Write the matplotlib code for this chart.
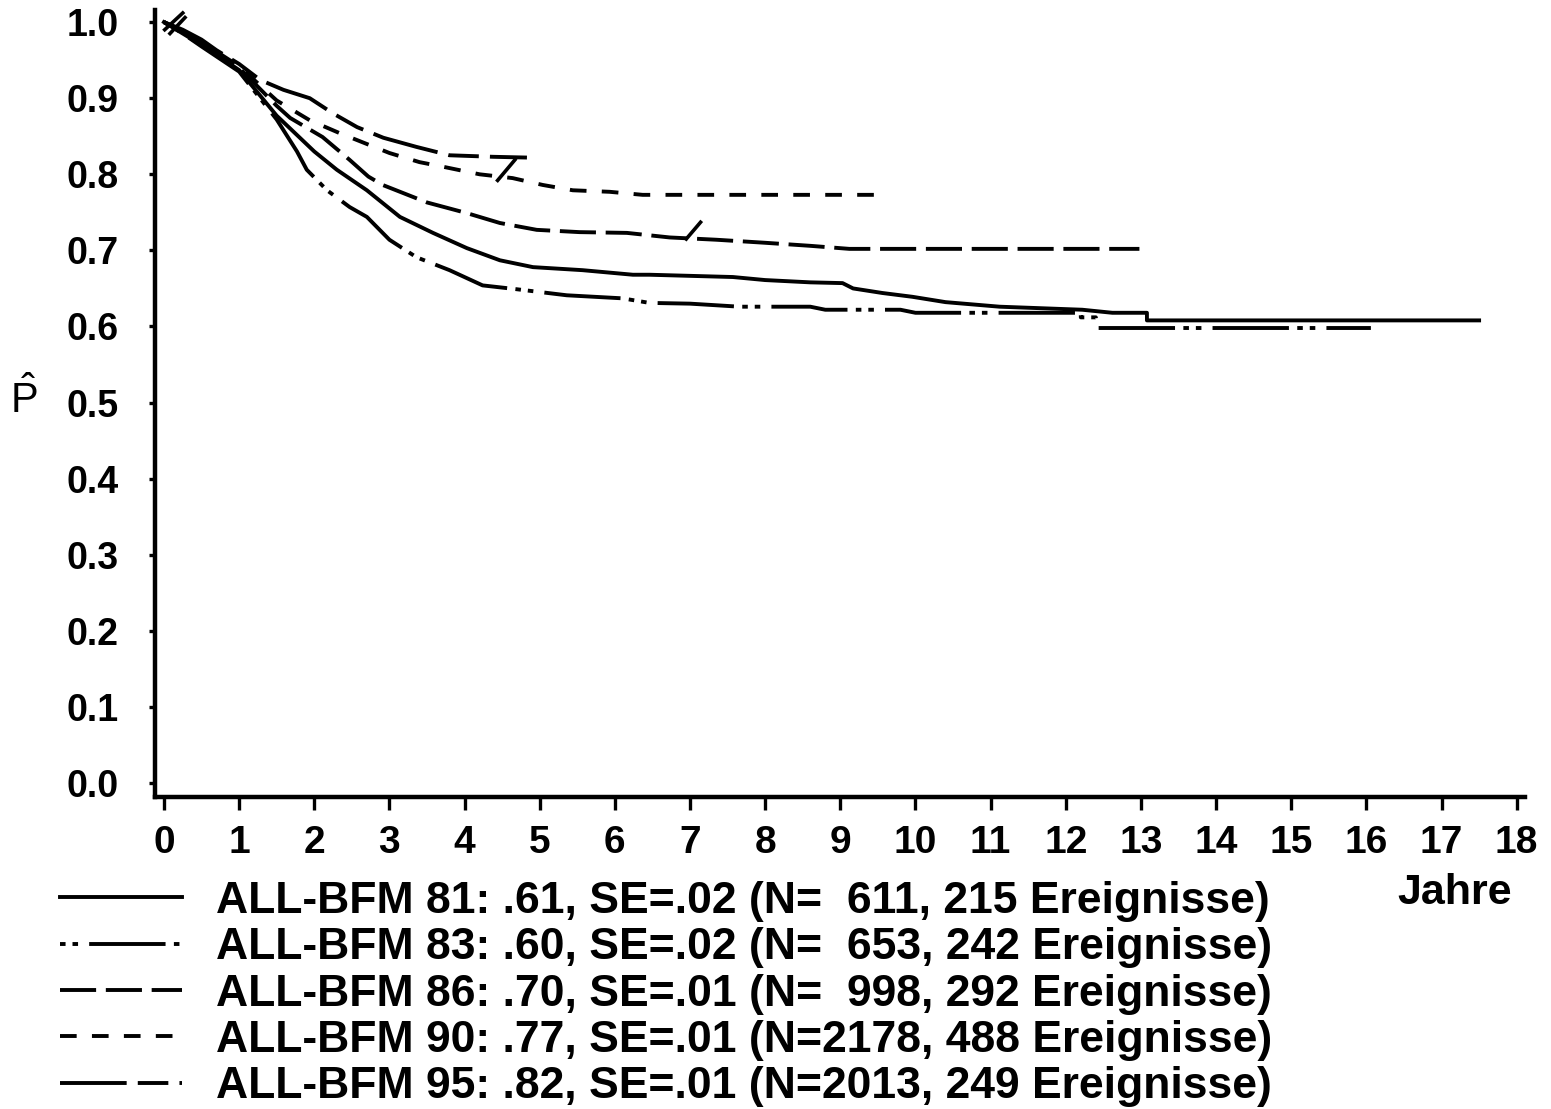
import matplotlib
matplotlib.use('Agg')
import matplotlib.pyplot as plt

plt.rcParams['font.family'] = ['Liberation Sans', 'DejaVu Sans']
plt.rcParams['mathtext.fontset'] = 'custom'
plt.rcParams['mathtext.rm'] = 'Liberation Sans'
plt.rcParams['lines.scale_dashes'] = False

# Kaplan-Meier curves (Jahre, P)
t81 = [0, 0.25, 0.5, 1.0, 1.5, 2.0, 2.3, 2.7, 3.14, 3.58, 4.03, 4.47, 4.91, 5.57, 6.24, 6.46,
       7.57, 8.0, 8.6, 9.03, 9.17, 9.56, 9.96, 10.4, 11.12, 12.22, 12.62, 13.08, 13.08, 17.5]
p81 = [1.0, 0.985, 0.97, 0.937, 0.877, 0.83, 0.806, 0.779, 0.744, 0.723, 0.703, 0.687, 0.678, 0.674,
       0.668, 0.668, 0.665, 0.661, 0.658, 0.657, 0.650, 0.644, 0.639, 0.632, 0.626, 0.622, 0.618,
       0.618, 0.608, 0.608]

t83 = [0, 0.25, 0.5, 1.0, 1.5, 1.77, 1.9, 2.17, 2.47, 2.7, 3.0, 3.36, 3.8, 4.24, 4.69, 5.36, 6.1,
       6.46, 7.0, 7.66, 8.6, 8.8, 9.8, 10.0, 12.2, 12.2, 12.4, 12.42, 16.06]
p83 = [1.0, 0.985, 0.968, 0.935, 0.872, 0.83, 0.806, 0.779, 0.757, 0.744, 0.714, 0.691, 0.674,
       0.654, 0.649, 0.641, 0.637, 0.631, 0.630, 0.626, 0.626, 0.622, 0.622, 0.618, 0.618, 0.612,
       0.612, 0.598, 0.598]

t86 = [0, 0.25, 0.5, 1.0, 1.5, 1.68, 2.11, 2.47, 2.72, 2.91, 3.5, 4.03, 4.47, 4.96, 5.53, 6.16,
       6.73, 7.35, 8.0, 8.6, 9.12, 12.98]
p86 = [1.0, 0.987, 0.972, 0.94, 0.89, 0.874, 0.849, 0.819, 0.797, 0.786, 0.763, 0.749, 0.736,
       0.727, 0.724, 0.723, 0.717, 0.714, 0.710, 0.706, 0.702, 0.702]

t90 = [0, 0.25, 0.5, 1.0, 1.5, 1.94, 2.34, 3.0, 3.4, 3.71, 4.2, 4.64, 5.04, 5.44, 5.93, 6.37, 9.55]
p90 = [1.0, 0.988, 0.974, 0.942, 0.897, 0.871, 0.854, 0.828, 0.816, 0.81, 0.80, 0.795, 0.786,
       0.779, 0.777, 0.773, 0.773]

t95 = [0, 0.25, 0.5, 0.7, 1.0, 1.28, 1.59, 1.94, 2.25, 2.57, 2.92, 3.36, 3.8, 4.38, 4.83]
p95 = [1.0, 0.99, 0.977, 0.963, 0.945, 0.924, 0.911, 0.90, 0.88, 0.862, 0.848, 0.836, 0.825,
       0.823, 0.822]

labels = ['ALL-BFM 81: .61, SE=.02 (N=  611, 215 Ereignisse)',
          'ALL-BFM 83: .60, SE=.02 (N=  653, 242 Ereignisse)',
          'ALL-BFM 86: .70, SE=.01 (N=  998, 292 Ereignisse)',
          'ALL-BFM 90: .77, SE=.01 (N=2178, 488 Ereignisse)',
          'ALL-BFM 95: .82, SE=.01 (N=2013, 249 Ereignisse)']

# slanted marks on the curves
slash_t = [(4.44, 4.67), (6.95, 7.14), (0.01, 0.25), (0.08, 0.28)]
slash_p = [(0.792, 0.819), (0.715, 0.737), (0.99, 1.012), (0.985, 1.006)]

fig = plt.figure(figsize=(15.51, 11.09), dpi=100)
ax = fig.add_axes([0.0999, 0.2813, 0.8833, 0.7096])

lw = 2.8
h81, = ax.plot(t81, p81, color='black', lw=lw, ls='-')
h83, = ax.plot(t83, p83, color='black', lw=lw, ls=(0, (4, 5, 4, 8, 55, 6)))
h86, = ax.plot(t86, p86, color='black', lw=lw, ls=(0, (26, 7)))
h90, = ax.plot(t90, p90, color='black', lw=lw, ls=(0, (12, 11)))
h95, = ax.plot(t95, p95, color='black', lw=lw, ls=(0, (48, 8, 22, 8)))

for st, sp in zip(slash_t, slash_p):
    ax.plot(st, sp, color='black', lw=2.6, clip_on=False)

ax.set_xlim(-0.12, 18.11)
ax.set_ylim(-0.0184, 1.0158)
ax.set_xticks(range(0, 19))
ax.set_yticks([i / 10 for i in range(11)])
ax.set_yticklabels(['%.1f' % (i / 10) for i in range(11)])

for s in ['top', 'right']:
    ax.spines[s].set_visible(False)
for s in ['left', 'bottom']:
    ax.spines[s].set_linewidth(3.2)

ax.tick_params(axis='y', length=4, width=2.4, pad=22, labelsize=27)
ax.tick_params(axis='x', length=9, width=2.4, pad=11, labelsize=28)
for lab in ax.get_xticklabels() + ax.get_yticklabels():
    lab.set_fontweight('bold')

fig.text(24 / 1551, 1 - 400 / 1109, r'$\hat{\mathrm{P}}$', fontsize=30, ha='center', va='center')
fig.text(1455 / 1551, 1 - 893 / 1109, 'Jahre', fontsize=31, fontweight='bold', ha='center', va='center')

fig.legend([h81, h83, h86, h90, h95], labels, loc='upper left',
           bbox_to_anchor=(60 / 1551, 1 - 881 / 1109), frameon=False,
           prop={'size': 32, 'weight': 'bold'}, handlelength=2.75, handletextpad=0.76,
           labelspacing=0.12, borderpad=0, borderaxespad=0)

fig.savefig('out.png', dpi=100)
